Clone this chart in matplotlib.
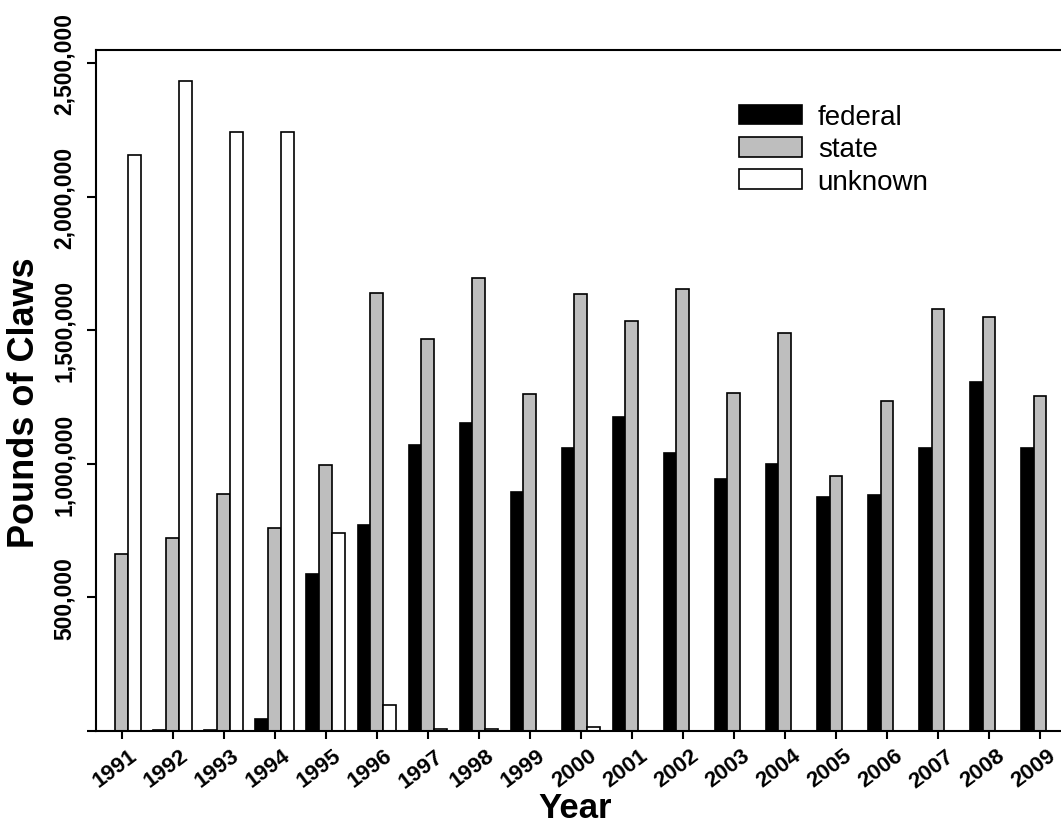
import numpy as np
import matplotlib
matplotlib.use("Agg")
import matplotlib.pyplot as plt
import matplotlib.transforms as mtransforms
from matplotlib.patches import Patch

plt.rcParams['font.family'] = ['Liberation Sans', 'DejaVu Sans']

# data (pounds of claws)
years = list(range(1991, 2010))
federal = [0, 5000, 5000, 45000, 588000, 772000, 1071000, 1152000, 896000, 1060000,
           1177000, 1041000, 945000, 999000, 875000, 885000, 1059000, 1308000, 1059000]
state = [663000, 722000, 889000, 761000, 997000, 1640000, 1468000, 1698000, 1261000, 1638000,
         1537000, 1655000, 1266000, 1489000, 954000, 1236000, 1579000, 1549000, 1256000]
unknown = [2155000, 2433000, 2242000, 2242000, 743000, 97000, 8000, 8000, 0, 15000,
           0, 0, 0, 0, 0, 0, 0, 0, 0]
series_names = ['federal', 'state', 'unknown']
series_colors = ['black', '#BEBEBE', 'white']
ytick_vals = [0, 500000, 1000000, 1500000, 2000000, 2500000]

W, H = 1061, 829
fig = plt.figure(figsize=(W / 100, H / 100), dpi=100)
ax = fig.add_axes([96 / W, 1 - 732 / H, (1065.5 - 96) / W, (732 - 51) / H])

x = np.array(years, dtype=float)
bw = 0.25
for i, (vals, col) in enumerate(zip([federal, state, unknown], series_colors)):
    ax.bar(x + (i - 1) * bw, vals, width=bw, color=col, edgecolor='black',
           linewidth=1.2, label=series_names[i])

ax.set_xlim(1990.5, 2009.5)
ax.set_ylim(0, 2550000)

for s in ax.spines.values():
    s.set_linewidth(1.5)

ax.set_yticks(ytick_vals)
ax.set_yticklabels(['' if v == 0 else f'{v:,}' for v in ytick_vals],
                   rotation=90, va='center', fontsize=16.5, fontweight='bold')
ax.tick_params(axis='y', direction='out', length=6.5, width=1.5, pad=8)

ax.set_xticks(x)
ax.set_xticklabels([str(y) for y in years], rotation=37, ha='right',
                   rotation_mode='anchor', fontsize=16, fontweight='bold')
ax.tick_params(axis='x', direction='out', length=6, width=1.5, pad=4)
# nudge the slanted year labels a bit to the right, like the original
shift = mtransforms.ScaledTranslation(7 / 100, 0, fig.dpi_scale_trans)
for lab in ax.get_xticklabels():
    lab.set_transform(lab.get_transform() + shift)

fig.text(25 / W, 1 - 403 / H, 'Pounds of Claws', rotation=90, ha='center', va='center',
         fontsize=26, fontweight='bold')
fig.text(575 / W, 1 - 809 / H, 'Year', ha='center', va='center',
         fontsize=25, fontweight='bold')

handles = [Patch(facecolor=c, edgecolor='black', linewidth=1.2) for c in series_colors]
ax.legend(handles, series_names, loc='upper left', bbox_to_anchor=(0.637, 0.957),
          frameon=False, fontsize=20, handlelength=2.3, handleheight=0.72,
          labelspacing=0.22, handletextpad=0.55)

fig.savefig('out.png', dpi=100)
